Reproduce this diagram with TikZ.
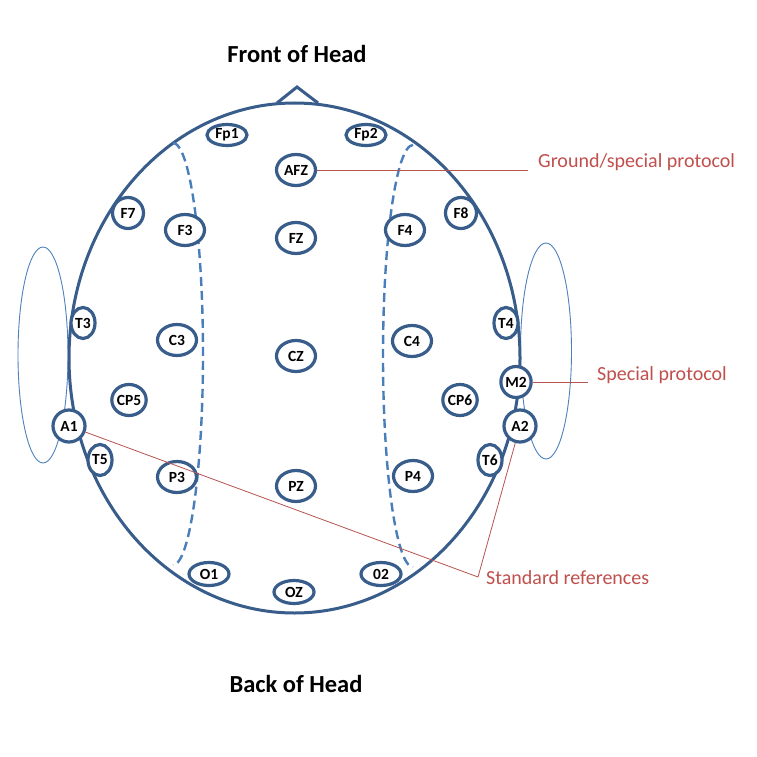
\documentclass[tikz,border=0pt]{standalone}
\usepackage{fontspec}
\setmainfont{Carlito}
\usetikzlibrary{shapes.geometric}
\definecolor{headblue}{HTML}{385D8A}
\definecolor{dashblue}{HTML}{4A7EBB}
\definecolor{earblue}{HTML}{4F81BD}
\definecolor{refred}{HTML}{B85450}
\definecolor{reftext}{HTML}{C0504D}
\tikzset{
  electrode/.style={ellipse, draw=headblue, line width=3.2pt, fill=white, inner sep=0pt,
    font=\fontsize{15.5}{16}\selectfont\bfseries, text=black},
  wide/.style={electrode, minimum width=39pt, minimum height=31pt},
  flat/.style={electrode, minimum width=40pt, minimum height=21pt},
  round/.style={electrode, minimum width=31pt, minimum height=31pt},
  ref/.style={electrode, minimum width=32pt, minimum height=32pt},
  slim/.style={electrode, minimum width=24pt, minimum height=31pt},
  headline/.style={draw=headblue, line width=3pt},
  dashline/.style={draw=dashblue, line width=2.4pt, dash pattern=on 9pt off 5pt},
  earline/.style={draw=earblue, line width=0.9pt},
  redline/.style={draw=refred, line width=0.8pt},
  redlabel/.style={anchor=west, inner sep=0pt, text=reftext, font=\fontsize{20}{21}\selectfont},
  title/.style={inner sep=0pt, font=\fontsize{24.5}{25}\selectfont\bfseries}
}
\begin{document}
\begin{tikzpicture}[x=1pt,y=-1pt]
\useasboundingbox (0,0) rectangle (757,757);
\fill[white] (0,0) rectangle (757,757);
% ears
\draw[earline] (43,355) ellipse [x radius=25, y radius=108];
\draw[earline] (546,351) ellipse [x radius=25.5, y radius=108];
% head
\filldraw[headline, fill=white] (294.5,358) ellipse [x radius=225.5, y radius=255];
% nose
\draw[headline, line join=miter] (277,103) -- (297,87) -- (318,103);
% dashed lines
\draw[dashline] (173,143) arc [start angle=-90, end angle=90, x radius=30, y radius=211];
\draw[dashline] (413,145) arc [start angle=-90, end angle=-270, x radius=30, y radius=211];
% titles
\node[title] (front) at (297,54) {Front of Head};
\node[title] (back) at (296,684) {Back of Head};
% electrodes
\node[flat] (Fp1) at (227,135) {Fp1};
\node[flat] (Fp2) at (366,135) {Fp2};
\node[wide] (AFZ) at (296,170) {AFZ};
\node[round] (F7) at (128,213) {F7};
\node[round] (F8) at (461,213) {F8};
\node[wide] (F3) at (185,230) {F3};
\node[wide] (FZ) at (296,238) {FZ};
\node[wide] (F4) at (405,230) {F4};
\node[slim] (T3) at (83,323) {T3};
\node[slim] (T4) at (506,323) {T4};
\node[wide] (C3) at (177,340) {C3};
\node[wide] (CZ) at (296,356) {CZ};
\node[wide] (C4) at (412,341) {C4};
\node[slim] (M2) at (516,382) {M2};
\node[round] (CP5) at (129,400) {CP5};
\node[round] (CP6) at (460,400) {CP6};
\node[ref] (A1) at (69,426) {A1};
\node[ref] (A2) at (520,426) {A2};
\node[slim] (T5) at (100,460) {T5};
\node[slim] (T6) at (490,460) {T6};
\node[wide] (P3) at (177,477) {P3};
\node[wide] (PZ) at (296,486) {PZ};
\node[wide] (P4) at (413,476) {P4};
\node[flat, minimum height=23pt] (O1) at (209,574) {O1};
\node[flat, minimum height=23pt] (O2) at (381,574) {02};
\node[flat, minimum height=23pt] (OZ) at (294,592) {OZ};
% reference labels
\node[redlabel] (gnd) at (538,162) {Ground/special protocol};
\node[redlabel] (spec) at (597,375) {Special protocol};
\node[redlabel] (std) at (486,578) {Standard references};
\coordinate (gndend) at (528,170);
\coordinate (specend) at (588,382);
\coordinate (stdv) at (478,577);
\draw[redline] (AFZ.east) -- (gndend);
\draw[redline] (M2.east) -- (specend);
\draw[redline] (A1) -- (stdv) -- (A2);
\end{tikzpicture}
\end{document}
